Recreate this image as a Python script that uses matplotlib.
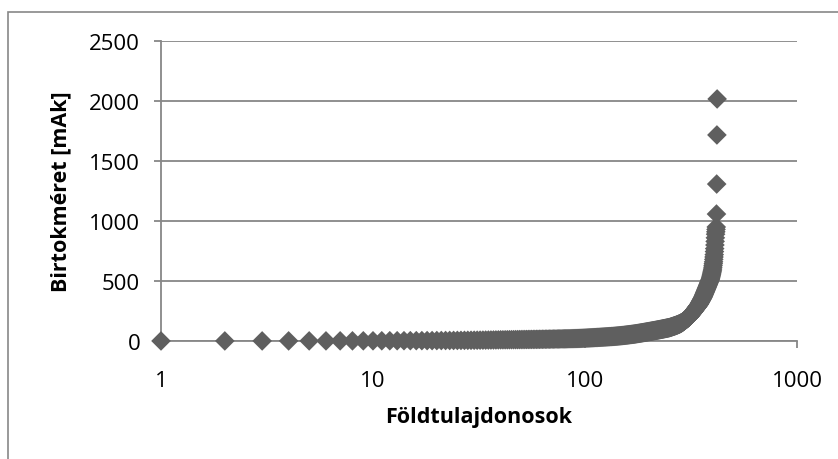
import numpy as np
import matplotlib
matplotlib.use("Agg")
import matplotlib.pyplot as plt
from matplotlib.patches import Rectangle

# birtokméret (mAk) földtulajdonosonként, növekvő sorrendben
sizes = [
    0.3, 0.5, 0.6, 0.8, 0.9, 1.0, 1.2, 1.3, 1.5, 1.6,
    1.8, 2.0, 2.2, 2.4, 2.6, 2.8, 3.0, 3.2, 3.4, 3.6,
    3.9, 4.1, 4.4, 4.6, 4.9, 5.2, 5.5, 5.8, 6.1, 6.4,
    6.7, 7.0, 7.3, 7.6, 8.0, 8.3, 8.7, 9.0, 9.4, 10.0,
    10.0, 10.3, 10.5, 10.7, 11.0, 11.2, 11.4, 11.6, 11.8, 12.0,
    12.2, 12.4, 12.6, 12.8, 13.0, 13.2, 13.4, 13.6, 13.8, 14.0,
    14.2, 14.4, 14.6, 14.8, 15.0, 15.2, 15.4, 15.6, 15.8, 16.0,
    16.2, 16.4, 16.6, 16.8, 17.0, 17.2, 17.4, 17.6, 17.8, 18.0,
    18.2, 18.4, 18.7, 19.0, 19.2, 19.5, 19.7, 20.0, 20.2, 20.5,
    20.7, 21.0, 21.3, 21.6, 22.0, 22.4, 22.8, 23.2, 23.6, 24.0,
    24.4, 24.8, 25.2, 25.6, 26.0, 26.4, 26.8, 27.2, 27.6, 28.0,
    28.4, 28.8, 29.2, 29.6, 30.0, 30.4, 30.8, 31.2, 31.6, 32.0,
    32.4, 32.8, 33.2, 33.6, 34.0, 34.4, 34.8, 35.2, 35.6, 36.0,
    36.4, 36.8, 37.2, 37.6, 38.0, 38.4, 38.9, 39.4, 39.9, 40.4,
    40.9, 41.4, 41.9, 42.4, 42.9, 43.4, 43.9, 44.4, 44.9, 45.4,
    46.0, 46.6, 47.2, 47.8, 48.4, 49.0, 49.6, 50.2, 50.8, 51.4,
    52.0, 52.6, 53.2, 53.8, 54.4, 55.0, 55.6, 56.2, 56.8, 57.4,
    58.0, 58.7, 59.4, 60.1, 60.8, 61.5, 62.2, 62.9, 63.6, 64.3,
    65.0, 65.7, 66.4, 67.1, 67.8, 68.5, 69.2, 69.9, 70.6, 71.3,
    72.0, 72.7, 73.4, 74.1, 74.8, 75.5, 76.2, 76.9, 77.6, 78.3,
    79.0, 79.6, 80.3, 81.0, 81.6, 82.3, 83.0, 83.6, 84.3, 85.0,
    85.6, 86.3, 87.0, 87.6, 88.3, 89.0, 89.6, 90.3, 91.0, 91.6,
    92.3, 93.0, 93.6, 94.3, 95.0, 95.6, 96.3, 97.0, 97.6, 98.3,
    99.0, 99.6, 100.3, 101.0, 101.6, 102.3, 103.0, 103.6, 104.3, 105.0,
    105.6, 106.3, 107.0, 107.6, 108.3, 109.0, 109.6, 110.3, 111.0, 111.6,
    112.5, 113.5, 114.5, 115.5, 116.5, 117.5, 118.5, 119.5, 120.5, 121.5,
    122.5, 123.5, 124.5, 125.5, 126.5, 127.5, 128.5, 129.5, 130.5, 131.5,
    133, 134, 135, 136.5, 137.5, 138.5, 140, 141, 142, 143.5,
    145, 146.5, 148, 149.5, 151, 152.5, 154, 156, 158, 160,
    162, 164, 166, 168, 170, 172, 174, 176, 178, 180,
    182, 184, 186, 188, 190, 192, 194, 196, 198, 200,
    203, 206, 209, 212, 215, 218, 221, 224, 227, 230,
    233, 236, 239, 242, 245, 248, 251, 254, 257, 260,
    263, 266, 269, 272, 275, 278, 281, 284, 287, 290,
    293, 296, 299, 302, 305, 309, 313, 317, 321, 325,
    329, 333, 337, 341, 345, 349, 353, 357, 361, 365,
    370, 375, 380, 385, 390, 395, 400, 405, 410, 415,
    420, 425, 430, 435, 440, 445, 450, 455, 460, 465,
    470, 475, 480, 485, 490, 495, 500, 505, 510, 515,
    520, 528, 536, 544, 552, 560, 570, 580, 590, 600,
    615, 630, 645, 660, 680, 700, 720, 745, 770, 800,
    830, 860, 890, 910, 930, 950,
    1058, 1308, 1717, 2017,
]
owners = np.arange(1, len(sizes) + 1)   # földtulajdonosok sorszáma

y_ticks = [0, 500, 1000, 1500, 2000, 2500]
x_ticks = [1, 10, 100, 1000]

plt.rcParams['font.family'] = ['Open Sans', 'DejaVu Sans']
grey = '#878787'

fig = plt.figure(figsize=(8.38, 4.6), dpi=100)
ax = fig.add_axes([161 / 838, 1 - 342 / 460, 636 / 838, 300 / 460])

# külső keret (Excel diagramterület)
fig.patches.append(Rectangle((8 / 838, -0.1), 1.2, 1 - 13 / 460 + 0.1,
                             transform=fig.transFigure, fill=False,
                             edgecolor=grey, linewidth=1.2))

ax.scatter(owners, sizes, marker='D', s=100, color='#5f5f5f',
           edgecolors='none', zorder=3, clip_on=False)

ax.set_xscale('log')
ax.set_xlim(1, 1000)
ax.set_ylim(0, 2500)
ax.set_xticks(x_ticks)
ax.set_xticklabels([str(t) for t in x_ticks])
ax.minorticks_off()
ax.set_yticks(y_ticks)
ax.yaxis.grid(True, color=grey, linewidth=1.3)
ax.set_axisbelow(True)

for s in ['top', 'right']:
    ax.spines[s].set_visible(False)
for s in ['left', 'bottom']:
    ax.spines[s].set_color(grey)
    ax.spines[s].set_linewidth(1.3)
ax.tick_params(axis='both', colors=grey, labelcolor='black', labelsize=16,
               length=5, width=1.3)
ax.tick_params(axis='x', pad=16)
ax.tick_params(axis='y', pad=10)

ax.set_xlabel('Földtulajdonosok', fontsize=15.5, fontweight='bold', labelpad=11)
ax.set_ylabel('Birtokméret [mAk]', fontsize=15.5, fontweight='bold', labelpad=13)

fig.savefig('out.png', dpi=100)
